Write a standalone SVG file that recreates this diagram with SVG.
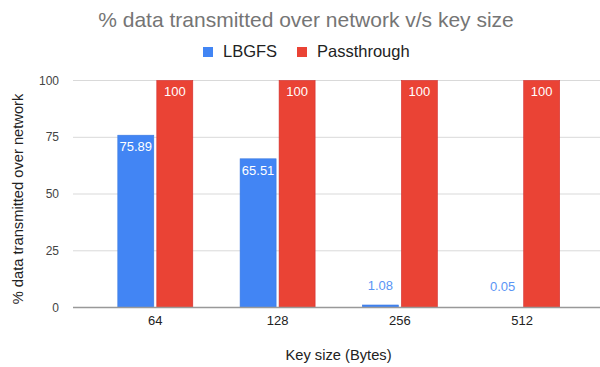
<svg xmlns="http://www.w3.org/2000/svg" width="600" height="367" viewBox="0 0 600 367">
<style>
text{font-family:"Liberation Sans",Arial,sans-serif}
.title{font-size:21px;fill:#757575}
.leg{font-size:16.5px;fill:#222}
.tick{font-size:12px;fill:#444}
.xt{font-size:13px;fill:#222}
.axt{font-size:14.7px;fill:#222}
.grid{stroke:#d9d9d9;stroke-width:1}
.base{stroke:#999;stroke-width:1.3}
.blue{fill:#4285f4;stroke:#3a78e0;stroke-width:0.6}
.red{fill:#ea4335;stroke:#d32f2f;stroke-width:0.6}
.lin{font-size:13px;fill:#fff;text-anchor:middle}
.lout{font-size:13px;fill:#5a95f5;text-anchor:middle}
</style>
<rect width="600" height="367" fill="#fff"/>
<text class="title" x="306" y="26.5" text-anchor="middle">% data transmitted over network v/s key size</text>
<g id="legend">
<rect x="203" y="47" width="10" height="10" fill="#4285f4"/>
<text class="leg" x="223" y="57">LBGFS</text>
<rect x="297" y="47" width="10" height="10" fill="#ea4335"/>
<text class="leg" x="317" y="57">Passthrough</text>
</g>
<g id="grid">
<line class="grid" x1="73" y1="80.5" x2="600" y2="80.5"/>
<line class="grid" x1="73" y1="137.3" x2="600" y2="137.3"/>
<line class="grid" x1="73" y1="194" x2="600" y2="194"/>
<line class="grid" x1="73" y1="250.8" x2="600" y2="250.8"/>
</g>
<g id="yticks" text-anchor="end">
<text class="tick" x="59" y="84.5">100</text>
<text class="tick" x="59" y="141.3">75</text>
<text class="tick" x="59" y="198">50</text>
<text class="tick" x="59" y="254.8">25</text>
<text class="tick" x="59" y="311.5">0</text>
</g>
<text class="axt" transform="translate(23,199) rotate(-90)" text-anchor="middle">% data transmitted over network</text>
<g id="bar-64">
<rect class="blue" x="117.8" y="135.2" width="36" height="172.3"/>
<rect class="red" x="156.8" y="80.5" width="36" height="227"/>
<text class="lin" x="135.8" y="151">75.89</text>
<text class="lin" x="174.8" y="96">100</text>
</g>
<g id="bar-128">
<rect class="blue" x="240.1" y="158.8" width="36" height="148.7"/>
<rect class="red" x="279.1" y="80.5" width="36" height="227"/>
<text class="lin" x="258.1" y="175">65.51</text>
<text class="lin" x="297.1" y="96">100</text>
</g>
<g id="bar-256">
<rect class="blue" x="362.4" y="305" width="36" height="2.5"/>
<rect class="red" x="401.4" y="80.5" width="36" height="227"/>
<text class="lout" x="380.4" y="290">1.08</text>
<text class="lin" x="419.4" y="96">100</text>
</g>
<g id="bar-512">
<rect class="red" x="523.7" y="80.5" width="36" height="227"/>
<text class="lout" x="502.7" y="291">0.05</text>
<text class="lin" x="541.7" y="96">100</text>
</g>
<g id="axis">
<line class="base" x1="73" y1="307.5" x2="600" y2="307.5"/>
</g>
<g id="xticks" text-anchor="middle">
<text class="xt" x="155.3" y="325">64</text>
<text class="xt" x="277.6" y="325">128</text>
<text class="xt" x="399.9" y="325">256</text>
<text class="xt" x="522.2" y="325">512</text>
</g>
<text class="axt" x="338.5" y="360" text-anchor="middle">Key size (Bytes)</text>
</svg>
